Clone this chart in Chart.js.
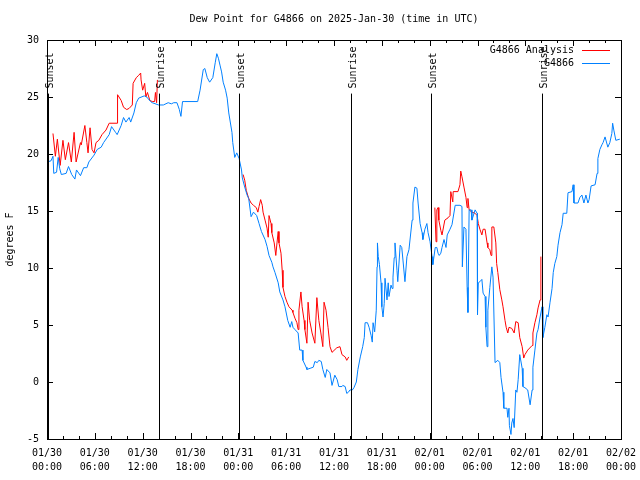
<!DOCTYPE html>
<html>
<head>
<meta charset="utf-8">
<script src="https://cdn.jsdelivr.net/npm/chart.js@4"></script>
<style>
html,body{margin:0;padding:0;background:#fff;}
canvas{display:block;}
</style>
</head>
<body>
<canvas id="c" width="640" height="480"></canvas>
<script>
const chartTitle = 'Dew Point for G4866 on 2025-Jan-30 (time in UTC)';
const yAxisTitle = 'degrees F';
const seriesNames = ['G4866 Analysis', 'G4866'];
const xTickDates = ['01/30','01/30','01/30','01/30','01/31','01/31','01/31','01/31','02/01','02/01','02/01','02/01','02/02'];
const xTickTimes = ['00:00','06:00','12:00','18:00','00:00','06:00','12:00','18:00','00:00','06:00','12:00','18:00','00:00'];
const eventHours = [0.13, 14.05, 24.1, 38.15, 48.2, 62.1];
const eventLabels = ['Sunset','Sunrise','Sunset','Sunrise','Sunset','Sunrise'];

// hours since 01/30 00:00 UTC
const obsHours = [0.0,0.5,0.75,0.85,1.2,1.4,1.6,1.8,2.4,2.7,3.1,3.5,3.7,4.2,4.6,5.0,5.25,5.9,6.3,6.8,7.1,7.8,8.1,8.6,8.8,9.3,9.6,9.9,10.3,10.5,10.9,11.2,11.5,12.2,12.5,13.0,13.2,14.0,14.6,15.2,15.6,15.9,16.3,16.6,16.8,17.0,17.3,18.9,19.2,19.6,19.8,20.1,20.4,20.8,21.1,21.3,21.5,21.7,21.9,22.1,22.4,22.6,22.8,23.2,23.3,23.55,23.8,24.1,24.4,24.5,24.8,25.1,25.3,25.6,25.9,26.3,26.6,26.9,27.35,27.6,27.85,28.2,28.35,28.6,29.0,29.2,29.6,29.85,30.2,30.5,30.7,30.85,31.1,31.5,31.7,32.0,32.1,32.5,32.6,33.0,33.4,33.6,33.9,34.1,34.4,34.6,34.9,35.1,35.5,35.75,36.1,36.4,36.6,37.0,37.1,37.4,37.6,37.8,38.0,38.3,38.5,38.8,39.0,39.3,39.6,39.8,39.9,40.2,40.4,40.65,40.8,40.9,41.1,41.3,41.4,41.45,41.55,41.7,41.9,42.0,42.15,42.3,42.4,42.65,42.8,42.9,43.15,43.3,43.4,43.55,43.65,43.9,44.0,44.3,44.5,44.65,44.9,45.15,45.4,45.8,45.9,46.15,46.4,46.55,46.8,47.05,47.15,47.4,47.65,47.8,48.05,48.3,48.4,48.7,48.9,49.05,49.2,49.4,49.55,49.8,50.05,50.2,50.55,50.8,51.2,51.8,52.05,52.1,52.3,52.55,52.7,52.8,52.95,53.2,53.3,53.7,53.95,54.0,54.1,54.3,54.55,54.7,54.95,55.05,55.2,55.3,55.55,55.8,55.95,56.2,56.55,56.8,56.95,57.2,57.3,57.7,57.8,57.95,58.0,58.2,58.3,58.45,58.6,58.8,58.95,59.1,59.3,59.6,59.7,59.95,60.3,60.6,60.85,60.95,61.2,61.45,61.6,61.85,62.1,62.2,62.45,62.7,62.85,63.1,63.35,63.5,63.7,63.95,64.1,64.35,64.6,64.75,65.2,65.35,65.85,66.0,66.1,66.6,66.85,67.1,67.35,67.6,67.85,68.0,68.25,68.75,69.0,69.1,69.35,69.6,69.75,70.0,70.35,70.6,70.85,70.95,71.1,71.35,71.85];
const obsValues = [19.3,19.4,19.8,18.3,18.4,19.7,18.7,18.2,18.3,18.9,18.2,17.8,18.6,18.1,18.8,18.8,19.3,19.9,20.4,20.6,21.0,21.7,22.4,21.9,21.7,22.5,23.2,22.8,23.2,22.8,23.6,24.5,24.9,25.1,25.0,24.6,24.5,24.3,24.3,24.5,24.4,24.5,24.5,23.9,23.3,24.6,24.6,24.6,25.6,27.4,27.5,26.7,26.3,26.7,28.0,28.8,28.4,27.8,27.2,26.3,25.6,24.9,23.6,21.9,21.0,19.7,20.1,19.6,18.6,17.9,17.1,16.4,16.1,14.5,14.9,14.6,13.9,13.2,12.5,11.9,11.1,10.5,10.1,9.6,8.7,7.9,7.2,6.6,5.4,4.8,5.3,4.8,4.6,4.3,2.8,2.8,1.9,1.3,1.1,1.2,1.3,1.8,1.7,1.9,1.8,1.1,0.4,1.1,0.8,-0.3,0.6,0.2,-0.4,-0.4,-0.3,-0.4,-1.0,-0.9,-0.7,-0.7,-0.5,0.0,1.1,2.2,3.1,3.9,5.2,5.2,4.8,4.1,3.5,5.2,4.4,6.3,10.1,12.2,11.0,10.3,8.7,6.6,5.7,6.9,9.1,7.2,8.7,7.5,8.5,8.2,9.2,10.9,12.2,9.8,8.8,12.0,11.8,10.7,8.8,11.0,11.6,14.2,15.7,17.1,17.0,15.7,13.9,13.1,12.5,13.4,13.9,13.1,12.3,11.0,10.3,11.8,11.8,11.3,11.1,11.3,11.8,12.5,11.8,12.9,13.4,13.8,15.5,15.5,15.4,10.1,13.6,13.4,8.3,6.1,15.1,15.1,14.2,15.1,14.8,5.9,8.7,8.8,9.0,7.8,7.5,4.8,3.1,6.3,8.3,10.1,9.2,1.7,1.9,1.7,0.4,-0.9,-2.3,-2.3,-3.1,-2.3,-3.8,-4.6,-3.6,-3.2,-4.0,-0.7,-0.9,0.2,2.4,1.2,-0.4,-0.5,-0.7,-2.0,-0.7,1.3,2.8,4.3,4.6,5.7,6.6,3.9,4.8,5.9,5.7,7.0,8.2,9.6,10.4,11.0,12.0,13.1,13.8,14.8,14.8,16.6,16.7,17.3,15.7,15.7,16.2,16.4,15.7,16.4,15.7,16.0,17.2,17.3,18.3,19.6,20.4,20.8,21.0,21.5,20.6,21.0,21.8,22.7,22.1,21.2,21.3];

// analysis series; null marks a gap
const anaHours = [0.75,1.05,1.3,1.65,2.0,2.3,2.7,3.05,3.4,3.65,4.2,4.3,4.75,5.0,5.15,5.4,5.65,5.9,6.15,6.5,6.9,7.4,7.8,8.8,8.85,9.3,9.6,10.0,10.3,10.7,10.8,11.2,11.5,11.75,11.8,12.0,12.25,12.4,12.6,12.9,13.2,13.5,13.6,13.75,13.85,14.0,
 24.6,24.8,25.0,25.3,25.6,25.9,26.25,26.45,26.6,26.8,27.0,27.1,27.35,27.6,27.75,27.85,28.1,28.2,28.5,28.7,28.85,29.0,29.1,29.35,29.5,29.6,29.85,30.1,30.35,30.75,30.85,31.1,31.35,31.5,31.6,31.85,32.0,32.25,32.35,32.6,32.75,32.95,33.25,33.6,33.85,34.1,34.35,34.6,34.75,35.0,35.25,35.5,35.75,36.35,36.75,37.0,37.4,37.6,37.85,38.0,
 48.65,48.8,48.9,49.05,49.15,49.4,49.55,49.9,50.3,50.55,50.65,50.9,50.95,51.55,51.8,51.9,52.05,52.3,52.55,52.7,52.8,52.95,53.3,53.7,53.95,54.1,54.3,54.55,54.7,54.95,55.2,55.3,55.55,55.7,55.8,56.05,56.3,56.4,56.55,56.8,57.05,57.2,57.45,57.6,57.8,57.95,58.3,58.6,58.8,59.1,59.3,59.6,59.8,59.95,60.3,60.85,60.95,61.2,61.45,61.6,61.85,61.95];
const anaValues = [21.8,19.8,21.3,19.0,21.2,19.5,21.0,19.3,21.9,19.3,21.0,20.8,22.5,21.0,20.1,22.3,20.4,20.1,21.0,21.2,21.7,22.1,22.7,22.7,25.2,24.7,24.1,23.9,24.0,24.3,26.2,26.7,26.9,27.1,26.5,25.6,26.2,25.0,25.4,24.7,24.6,24.6,25.4,24.5,26.5,null,
 18.2,17.7,16.8,16.1,15.7,15.5,15.3,14.9,15.4,16.0,15.5,14.9,14.2,13.5,12.7,14.6,13.9,13.1,12.2,11.1,12.2,13.2,12.2,11.3,9.8,8.3,7.5,7.0,6.6,6.3,6.1,5.6,5.2,4.6,6.3,7.9,6.6,5.4,4.6,3.4,7.0,5.4,4.3,3.4,7.4,5.4,4.3,3.1,7.0,6.3,4.8,3.1,2.6,3.0,3.1,2.4,2.2,1.9,2.2,null,
 15.3,12.3,15.1,15.3,14.2,13.3,12.9,14.2,14.4,14.6,16.7,15.8,16.7,16.7,17.3,18.5,18.0,17.1,16.2,15.3,16.1,15.1,14.9,14.8,14.6,13.9,13.4,12.9,13.4,13.4,12.2,11.8,11.6,11.1,13.6,13.6,12.2,10.4,9.6,8.1,7.2,6.6,5.4,4.8,4.3,4.8,4.7,4.3,5.3,5.2,3.9,3.1,2.1,2.4,2.8,3.2,4.3,5.2,5.9,6.5,7.2,11.0];

const RED = 'rgb(255,0,0)';
const BLUE = 'rgb(0,128,255)';
const FONT = '10px "DejaVu Sans Mono", "Liberation Mono", monospace';

const toXY = (xs, ys) => xs.map((x, i) => ({x: x, y: ys[i]}));

const decor = {
  id: 'decor',
  afterDatasetsDraw(chart) {
    const ctx = chart.ctx;
    const a = chart.chartArea;
    const xs = chart.scales.x, ys = chart.scales.y;
    ctx.save();
    ctx.strokeStyle = '#000';
    ctx.lineWidth = 1;
    // event lines
    eventHours.forEach((h, i) => {
      const px = Math.round(xs.getPixelForValue(h)) + 0.5;
      ctx.beginPath();
      ctx.moveTo(px, ys.getPixelForValue(25.3));
      ctx.lineTo(px, a.bottom);
      ctx.stroke();
      ctx.save();
      ctx.translate(px + 2, ys.getPixelForValue(25.3) - 5);
      ctx.rotate(-Math.PI / 2);
      ctx.font = FONT;
      ctx.fillStyle = '#000';
      ctx.textAlign = 'left';
      ctx.textBaseline = 'middle';
      ctx.fillText(eventLabels[i], 0, 0);
      ctx.restore();
    });
    // border
    ctx.strokeRect(Math.round(a.left) + 0.5, Math.round(a.top) + 0.5, Math.round(a.right - a.left), Math.round(a.bottom - a.top));
    // x ticks (inward, top and bottom)
    for (let h = 0; h <= 72; h += 2) {
      const px = Math.round(xs.getPixelForValue(h)) + 0.5;
      const len = (h % 6 === 0) ? 6 : 3;
      ctx.beginPath();
      ctx.moveTo(px, a.bottom); ctx.lineTo(px, a.bottom - len);
      ctx.moveTo(px, a.top); ctx.lineTo(px, a.top + len);
      ctx.stroke();
    }
    // y ticks (inward, left and right)
    for (let v = -5; v <= 30; v += 5) {
      const py = Math.round(ys.getPixelForValue(v)) + 0.5;
      ctx.beginPath();
      ctx.moveTo(a.left, py); ctx.lineTo(a.left + 6, py);
      ctx.moveTo(a.right, py); ctx.lineTo(a.right - 6, py);
      ctx.stroke();
    }
    // title
    ctx.font = FONT;
    ctx.fillStyle = '#000';
    ctx.textAlign = 'center';
    ctx.textBaseline = 'middle';
    ctx.fillText(chartTitle, (a.left + a.right) / 2, 19);
    // y axis title
    ctx.save();
    ctx.translate(10, (a.top + a.bottom) / 2);
    ctx.rotate(-Math.PI / 2);
    ctx.fillText(yAxisTitle, 0, 0);
    ctx.restore();
    // legend
    const colors = [RED, BLUE];
    seriesNames.forEach((name, i) => {
      const ly = 50 + i * 13;
      ctx.textAlign = 'right';
      ctx.fillStyle = '#000';
      ctx.fillText(name, 574, ly);
      ctx.strokeStyle = colors[i];
      ctx.beginPath();
      ctx.moveTo(582, Math.round(ly) + 0.5);
      ctx.lineTo(610, Math.round(ly) + 0.5);
      ctx.stroke();
    });
    ctx.restore();
  }
};

new Chart(document.getElementById('c'), {
  type: 'line',
  data: {
    datasets: [
      { label: seriesNames[0], data: toXY(anaHours, anaValues), borderColor: RED, borderWidth: 1, pointRadius: 0, tension: 0, spanGaps: false, order: 1 },
      { label: seriesNames[1], data: toXY(obsHours, obsValues), borderColor: BLUE, borderWidth: 1, pointRadius: 0, tension: 0, spanGaps: false, order: 0 }
    ]
  },
  options: {
    responsive: false,
    animation: false,
    events: [],
    layout: { padding: { top: 40, right: 19, left: 0, bottom: 0 } },
    plugins: { legend: { display: false }, title: { display: false }, tooltip: { enabled: false } },
    scales: {
      x: {
        type: 'linear', min: 0, max: 72,
        afterFit: s => { s.height = 41; s.paddingLeft = 0; s.paddingRight = 0; },
        grid: { display: false, drawTicks: false },
        border: { display: false },
        ticks: {
          stepSize: 6, autoSkip: false, maxRotation: 0, padding: 7,
          color: '#000', font: { family: '"DejaVu Sans Mono", monospace', size: 10, lineHeight: 1.4 },
          callback: v => { const i = Math.round(v / 6); return [xTickDates[i], xTickTimes[i]]; }
        }
      },
      y: {
        min: -5, max: 30,
        afterFit: s => { s.width = 47; s.paddingTop = 0; s.paddingBottom = 0; },
        grid: { display: false, drawTicks: false },
        border: { display: false },
        ticks: { stepSize: 5, padding: 8, color: '#000', font: { family: '"DejaVu Sans Mono", monospace', size: 10 } }
      }
    }
  },
  plugins: [decor]
});
</script>
</body>
</html>
